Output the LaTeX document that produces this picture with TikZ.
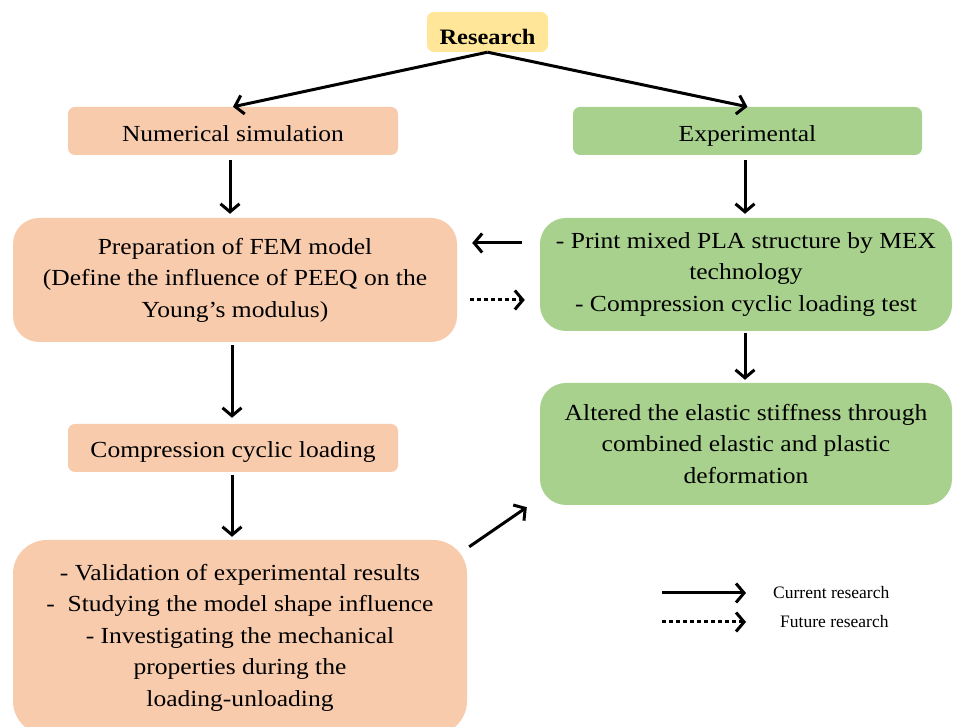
\documentclass[tikz,border=0pt]{standalone}
\usepackage{fontspec}
\setmainfont{Liberation Serif}[FakeStretch=1.11]
\newfontfamily\legfont{Liberation Serif}
\usetikzlibrary{arrows.meta}
\definecolor{cyel}{HTML}{FFE699}
\definecolor{cora}{HTML}{F8CBAD}
\definecolor{cgrn}{HTML}{A9D18E}
\tikzset{
  box/.style={rectangle, inner sep=0pt, align=center, font=\fontsize{23}{31.5}\selectfont},
  smallbox/.style={box, rounded corners=7pt},
  bigbox/.style={box, rounded corners=26pt},
  arr/.style={line width=3pt, -{Straight Barb[length=8pt,width=19pt]}},
  darr/.style={arr, dash pattern=on 4pt off 3pt},
  leg/.style={font=\legfont\fontsize{17.5}{20}\selectfont, anchor=west, inner sep=0pt}
}
\begin{document}
\begin{tikzpicture}[x=1pt,y=1pt]
\useasboundingbox (0,0) rectangle (953,727);
\node[smallbox, fill=cyel, minimum width=121pt, minimum height=40pt, font=\fontsize{22}{31}\selectfont\bfseries, text height=25pt, text depth=0pt] (res) at (487.5,695) {Research};
\node[smallbox, fill=cora, minimum width=330pt, minimum height=48pt, text height=21pt, text depth=0pt] (num) at (233,596) {Numerical simulation};
\node[smallbox, fill=cgrn, minimum width=349pt, minimum height=48pt, text height=21pt, text depth=0pt] (exp) at (747.5,596) {Experimental};
\node[bigbox, fill=cora, minimum width=444pt, minimum height=124pt] (prep) at (235,447) {Preparation of FEM model\\(Define the influence of PEEQ on the\\Young's modulus)};
\node[bigbox, fill=cgrn, minimum width=412pt, minimum height=113pt] (print) at (746,452.5) {- Print mixed PLA structure by MEX\\technology\\- Compression cyclic loading test};
\node[smallbox, fill=cora, minimum width=330pt, minimum height=48pt, text height=19pt, text depth=0pt] (comp) at (233,279) {Compression cyclic loading};
\node[bigbox, fill=cgrn, minimum width=412pt, minimum height=122pt] (alt) at (746,283) {Altered the elastic stiffness through\\combined elastic and plastic\\deformation};
\node[box, rounded corners=34pt, fill=cora, minimum width=454pt, minimum height=195pt] (val) at (240,89.5) {- Validation of experimental results\\-\ \ Studying the model shape influence\\- Investigating the mechanical\\properties during the\\loading-unloading};

\draw[arr] (res.south) -- (num.north);
\draw[arr] (res.south) -- (exp.north);
\draw[arr, shorten <=5pt, shorten >=4pt] ([xshift=-3pt]num.south) -- ([xshift=-3pt]num.south |- prep.north);
\draw[arr, shorten <=5pt, shorten >=4pt] ([xshift=-2.5pt]exp.south) -- ([xshift=-2.5pt]exp.south |- print.north);
\draw[arr] ([xshift=-18pt,yshift=31.5pt]print.west) -- ([xshift=15pt,yshift=37pt]prep.east);
\draw[darr] ([xshift=13pt,yshift=-20pt]prep.east) -- ([xshift=-15pt,yshift=-25.5pt]print.west);
\draw[arr, shorten <=2pt, shorten >=3pt] ([xshift=-1pt]print.south) -- ([xshift=-1pt]print.south |- alt.north);
\draw[arr, shorten <=3pt, shorten >=6pt] ([xshift=-3pt]prep.south) -- ([xshift=-3pt]prep.south |- comp.north);
\draw[arr, shorten <=3pt, shorten >=3pt] ([xshift=-1pt]comp.south) -- ([xshift=-1pt]comp.south |- val.north);
\draw[arr] ([xshift=2pt,yshift=-7pt]val.north east) -- ([xshift=-13pt,yshift=-2pt]alt.south west);

\coordinate (l1a) at (662,134);
\coordinate (l1b) at (746,134);
\coordinate (l2a) at (662,105);
\coordinate (l2b) at (746,105);
\draw[arr] (l1a) -- (l1b);
\draw[darr] (l2a) -- (l2b);
\node[leg] (t1) at (773,134) {Current research};
\node[leg] (t2) at (780,105) {Future research};
\end{tikzpicture}
\end{document}
